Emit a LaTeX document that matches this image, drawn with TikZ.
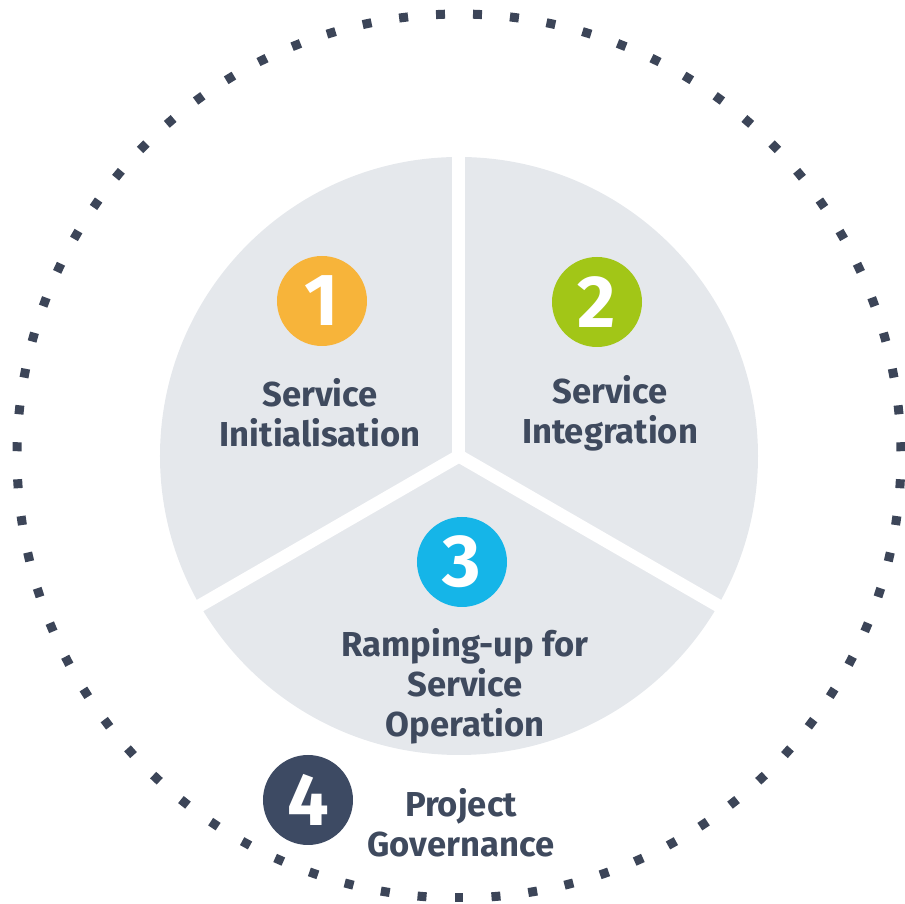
\documentclass[tikz,border=0pt]{standalone}
\usepackage{fontspec}
\setmainfont{Fira Sans}
\definecolor{piegray}{HTML}{E5E8EC}
\definecolor{inkslate}{HTML}{3F4A5E}
\definecolor{dotslate}{HTML}{3C4558}
\definecolor{phaseorange}{HTML}{F7B43A}
\definecolor{phasegreen}{HTML}{A2C617}
\definecolor{phasecyan}{HTML}{15B5E8}
\definecolor{phasenavy}{HTML}{3D4A63}
\begin{document}
\begin{tikzpicture}[
		phase/.style={circle, fill=#1, minimum size=1.8cm, inner sep=0, text=white, font=\bfseries\fontsize{42}{42}\selectfont},
		label/.style={align=center, inner sep=0, text=inkslate, font=\bfseries\fontsize{19.7}{22.8}\selectfont},
		dot/.style={rectangle, fill=dotslate, minimum size=.18cm, inner sep=0}
	]
		\useasboundingbox (-9.18, -8.96) rectangle (8.92, 9.12);
		\fill[piegray] (0, 0) circle (5.98);
		\foreach \a in {90, 210, 330}
			\draw[white, line width=.26cm] (0, 0) -- (\a:6.1);
		\foreach \i in {0,...,74}
			\node[dot, rotate=270+\i*4.8] (d\i) at (270+\i*4.8:8.84) {};
		\node[phase=phaseorange] (p1) at (-2.74, 3.1) {1};
		\node[phase=phasegreen] (p2) at (2.76, 3.08) {2};
		\node[phase=phasecyan] (p3) at (.06, -2.12) {3};
		\node[phase=phasenavy] (p4) at (-3.02, -6.88) {4};
		\node[label] (t1) at (-2.78, .86) {Service\\Initialisation};
		\node[label] (t2) at (3.02, .86) {Service\\Integration};
		\node[label] (t3) at (.12, -4.6) {Ramping-up for\\Service\\Operation};
		\node[label] (t4) at (.04, -7.33) {Project\\Governance};
	\end{tikzpicture}
\end{document}
